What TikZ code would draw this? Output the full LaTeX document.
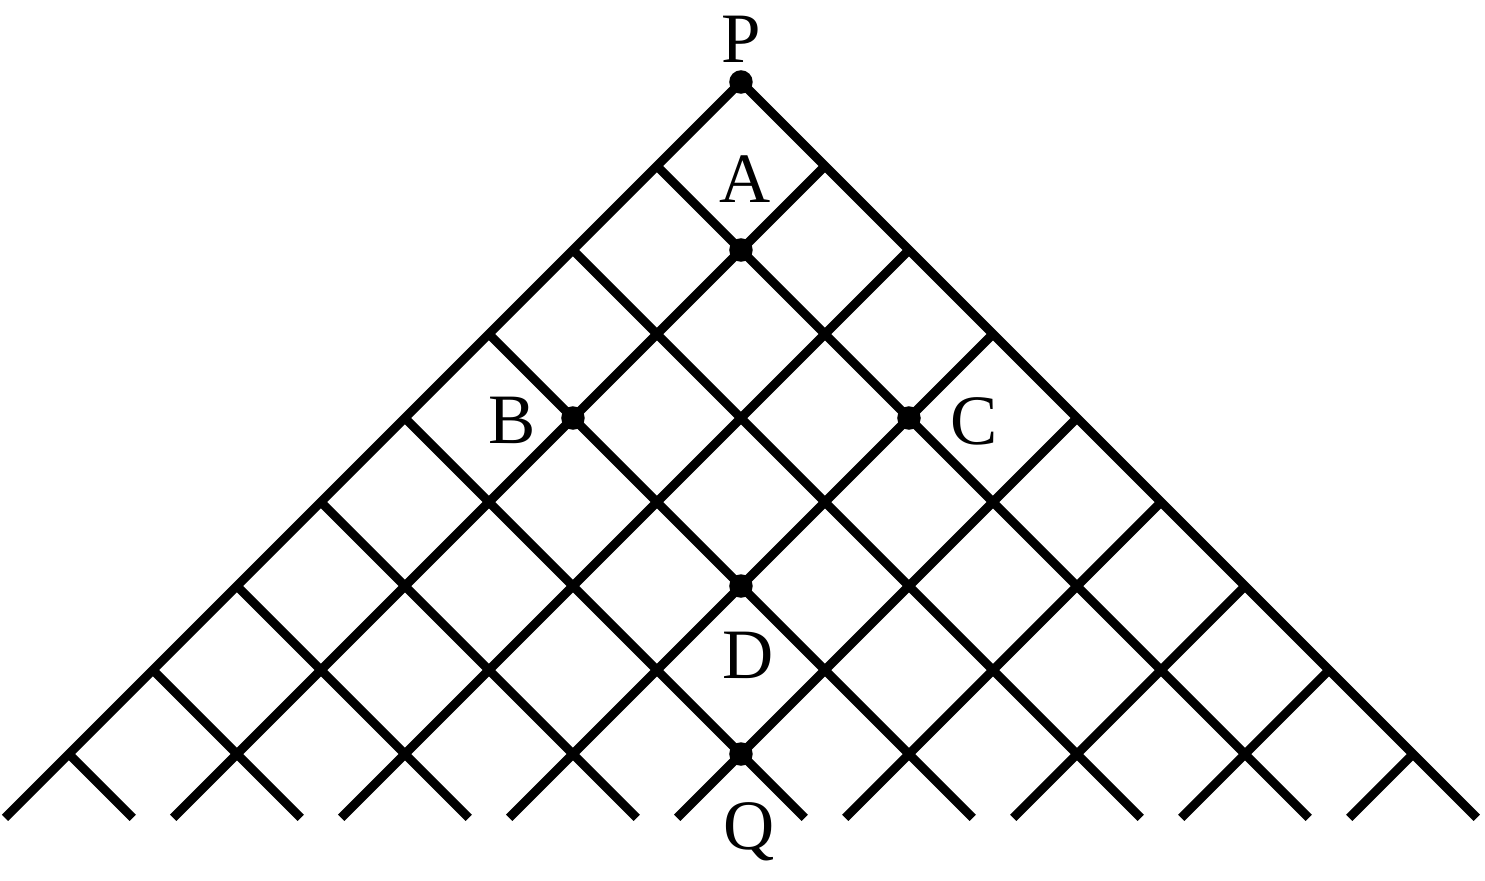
\documentclass[tikz,border=0pt]{standalone}
\usepackage{fontspec}
\setmainfont{Liberation Serif}
\usetikzlibrary{calc}

\begin{document}
\begin{tikzpicture}[line width = 3pt, lbl/.style={font=\fontsize{24}{28}\selectfont, inner sep = 0pt, anchor = base}, dot/.style={circle, fill, inner sep = 0pt, minimum size = 0.28cm}]
\useasboundingbox (-8.821,-9.5) rectangle (8.857,0.976);
\coordinate (top) at (0,0);
\coordinate (bl) at (-8.76,-8.76);
\coordinate (br) at (8.76,-8.76);
\draw (bl) -- (top) -- (br);
\foreach \k in {1,...,8}{
  \coordinate (l\k) at (-\k,-\k);
  \coordinate (r\k) at (\k,-\k);
  \coordinate (lb\k) at ({8.76-2*\k},-8.76);
  \coordinate (rb\k) at ({2*\k-8.76},-8.76);
  \draw (l\k) -- (lb\k);
  \draw (r\k) -- (rb\k);
}
\node[dot] (P) at (0,0) {};
\node[dot] (A) at (0,-2) {};
\node[dot] (B) at (-2,-4) {};
\node[dot] (C) at (2,-4) {};
\node[dot] (D) at (0,-6) {};
\node[dot] (Q) at (0,-8) {};
\path (0,0.238) node[lbl] (lP) {P};
\path (0.05,-1.44) node[lbl] (lA) {A};
\path (-2.73,-4.30) node[lbl] (lB) {B};
\path (2.77,-4.32) node[lbl] (lC) {C};
\path (0.08,-7.10) node[lbl] (lD) {D};
\path (0.1,-9.14) node[lbl] (lQ) {Q};
\end{tikzpicture}
\end{document}
